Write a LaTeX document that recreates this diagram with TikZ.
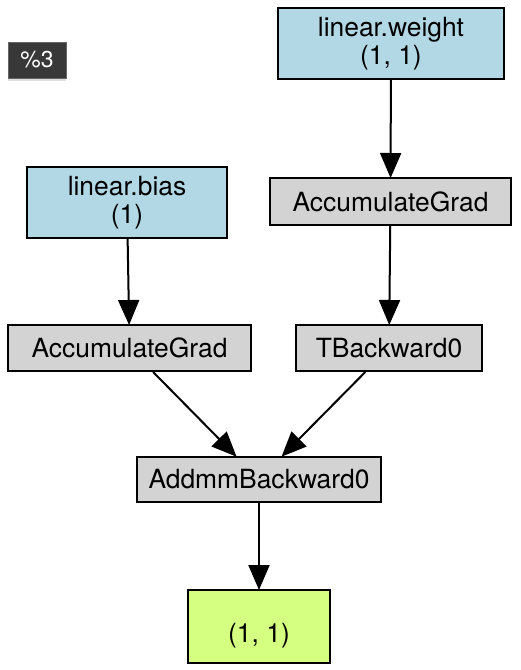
\documentclass[tikz,border=0pt]{standalone}
\usepackage{fontspec}
\setmainfont{TeX Gyre Heros}
\usepackage{xcolor}
\definecolor{gvblue}{RGB}{178,216,229}
\definecolor{gvgray}{RGB}{211,211,211}
\definecolor{gvgreen}{RGB}{212,255,128}
\definecolor{gvbadge}{RGB}{56,56,56}
\usetikzlibrary{arrows.meta, positioning, shadows}

\tikzset{
  gvbox/.style={draw=black, line width=1pt, rectangle, inner sep=0pt, align=center,
    font=\fontsize{13.2}{13.8}\selectfont},
  varnode/.style={gvbox, fill=gvblue},
  opnode/.style={gvbox, fill=gvgray},
  outnode/.style={gvbox, fill=gvgreen},
  gradarrow/.style={-{Triangle[length=12.5pt,width=10.5pt]}, line width=1pt, shorten >=-0.5pt},
}

\begin{document}
\begin{tikzpicture}[x=0.5pt, y=-0.5pt]
  \useasboundingbox (0,0) rectangle (520,670);

  % graph label
  \node[fill=gvbadge, draw=gray!80!black, line width=0.5pt, text=white, inner sep=0pt,
    minimum width=29pt, minimum height=18pt, font=\fontsize{11.5}{12}\selectfont,
    drop shadow={shadow xshift=0pt, shadow yshift=-1.5pt, opacity=0.25}] (badge) at (37,60) {\%3};

  % parameters
  \node[varnode, minimum width=113pt, minimum height=35.5pt] (weight) at (391,43.5) {linear.weight\\(1, 1)};
  \node[varnode, minimum width=100pt, minimum height=35.5pt] (bias) at (127,202.5) {linear.bias\\(1)};

  % backward ops
  \node[opnode, minimum width=120.5pt, minimum height=23.5pt] (accw) at (390.5,201.5) {AccumulateGrad};
  \node[opnode, minimum width=121.5pt, minimum height=23pt] (accb) at (129.5,348) {AccumulateGrad};
  \node[opnode, minimum width=93pt, minimum height=23pt] (tback) at (389,348) {TBackward0};
  \node[opnode, minimum width=122pt, minimum height=22.5pt] (addmm) at (259,479.5) {AddmmBackward0};

  % output
  \node[outnode, minimum width=71pt, minimum height=36.5pt] (out) at (259,626.5) {\mbox{}\\[5pt](1, 1)};

  % edges
  \draw[gradarrow] (weight) -- (accw);
  \draw[gradarrow] (bias) -- (accb);
  \draw[gradarrow] (accw) -- (tback);
  \draw[gradarrow] (accb) -- (addmm);
  \draw[gradarrow] (tback) -- (addmm);
  \draw[gradarrow] (addmm) -- (out);
\end{tikzpicture}
\end{document}
